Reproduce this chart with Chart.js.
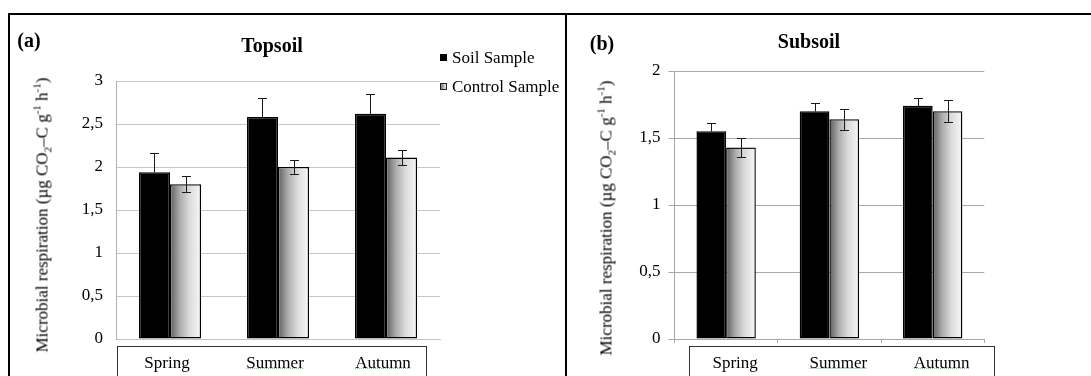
<!DOCTYPE html>
<html>
<head>
<meta charset="utf-8">
<script src="https://cdn.jsdelivr.net/npm/chart.js@4.4.1/dist/chart.umd.min.js"></script>
<style>
  body { margin: 0; background: #fff; }
  #page { position: relative; width: 1091px; height: 376px; overflow: hidden; font-family: 'Liberation Serif', 'Times New Roman', serif; color: #000; }
  .frame { position: absolute; left: 8px; top: 13px; width: 1100px; height: 400px; border-top: 2px solid #000; border-left: 2px solid #000; }
  .divider { position: absolute; left: 565px; top: 13px; width: 2px; height: 370px; background: #000; }
  canvas { position: absolute; }
  .ttl { position: absolute; white-space: nowrap; font-weight: bold; font-size: 20px; transform: translate(-50%, -50%); }
  .ytitle { position: absolute; white-space: nowrap; font-size: 17px; transform: translate(-50%, -50%) rotate(-90deg); }
  .ytitle sub, .ytitle sup { font-size: 11px; }
  .legend { position: absolute; left: 440px; font-size: 17px; white-space: nowrap; transform: translate(0, -50%); }
  .legend i { display: inline-block; width: 7px; height: 7px; margin-right: 5px; vertical-align: 2px; box-sizing: border-box; }
</style>
</head>
<body>
<div id="page">
  <div class="frame"></div>
  <div class="divider"></div>

  <canvas id="topsoil" width="555" height="360" style="left:10px; top:16px;"></canvas>
  <canvas id="subsoil" width="523" height="360" style="left:568px; top:16px;"></canvas>

  <div class="ttl" style="left:29px; top:40px;">(a)</div>
  <div class="ttl" style="left:272px; top:45px;">Topsoil</div>
  <div class="ttl" style="left:602px; top:43px;">(b)</div>
  <div class="ttl" style="left:809px; top:41px;">Subsoil</div>

  <div class="ytitle" style="left:42px; top:215px;">Microbial respiration (µg CO<sub>2</sub>–C g<sup>-1</sup> h<sup>-1</sup>)</div>
  <div class="ytitle" style="left:606px; top:218px;">Microbial respiration (µg CO<sub>2</sub>–C g<sup>-1</sup> h<sup>-1</sup>)</div>

  <div class="legend" style="top:58px;"><i style="background:#000;"></i>Soil Sample</div>
  <div class="legend" style="top:87px;"><i style="border:1px solid #222; background:linear-gradient(to right,#777,#eee);"></i>Control Sample</div>
</div>

<script>
const seasons = ['Spring', 'Summer', 'Autumn'];

const topsoilSoil = [1.94, 2.58, 2.62];
const topsoilSoilErr = [0.22, 0.22, 0.23];
const topsoilControl = [1.80, 2.00, 2.11];
const topsoilControlErr = [0.09, 0.08, 0.09];

const subsoilSoil = [1.55, 1.70, 1.74];
const subsoilSoilErr = [0.06, 0.06, 0.06];
const subsoilControl = [1.43, 1.64, 1.70];
const subsoilControlErr = [0.07, 0.08, 0.08];

const topsoilTicks = ['0', '0,5', '1', '1,5', '2', '2,5', '3'];
const subsoilTicks = ['0', '0,5', '1', '1,5', '2'];

Chart.defaults.font.family = "'Liberation Serif', 'Times New Roman', serif";
Chart.defaults.color = '#000';

// grey gradient fill for the control bars
const shadeBars = {
  id: 'shadeBars',
  afterDatasetDraw(chart, args) {
    if (args.index !== 1) return;
    const ctx = chart.ctx;
    args.meta.data.forEach(bar => {
      const { x, y, base, width } = bar.getProps(['x', 'y', 'base', 'width'], true);
      const l = x - width / 2 + 1.5, r = x + width / 2 - 1.5;
      const g = ctx.createLinearGradient(l, 0, r, 0);
      g.addColorStop(0, '#6a6a6a');
      g.addColorStop(0.3, '#adadad');
      g.addColorStop(0.65, '#dcdcdc');
      g.addColorStop(1, '#f3f3f3');
      ctx.save();
      ctx.fillStyle = g;
      ctx.fillRect(l, y + 1.5, r - l, base - y - 3);
      ctx.restore();
    });
  }
};

// black bars hide the lower half of their whisker, so only the upper part is drawn there
const errorBars = {
  id: 'errorBars',
  afterDatasetsDraw(chart) {
    const ctx = chart.ctx, ys = chart.scales.y;
    ctx.save();
    ctx.strokeStyle = '#1a1a1a';
    ctx.lineWidth = 1;
    chart.data.datasets.forEach((ds, i) => {
      chart.getDatasetMeta(i).data.forEach((bar, j) => {
        const v = ds.data[j], e = ds.errors[j];
        const top = Math.round(ys.getPixelForValue(v + e)) + 0.5;
        const bot = Math.round(ys.getPixelForValue(i === 0 ? v : v - e)) + 0.5;
        const x = Math.round(bar.x) + 0.5;
        ctx.beginPath();
        ctx.moveTo(x, top); ctx.lineTo(x, bot);
        ctx.moveTo(x - 4.5, top); ctx.lineTo(x + 4.5, top);
        if (i !== 0) { ctx.moveTo(x - 4.5, bot); ctx.lineTo(x + 4.5, bot); }
        ctx.stroke();
      });
    });
    ctx.restore();
  }
};

// box round the category labels (+ the spell-check squiggle under two of them)
const labelBox = {
  id: 'labelBox',
  afterDraw(chart, args, opts) {
    const ctx = chart.ctx, a = chart.chartArea, xs = chart.scales.x;
    ctx.save();
    ctx.strokeStyle = '#333';
    ctx.lineWidth = 1;
    const l = Math.round(a.left + opts.left) + 0.5;
    const r = Math.round(a.right + opts.right) + 0.5;
    const t = Math.round(a.bottom + opts.top) + 0.5;
    ctx.strokeRect(l, t, r - l, chart.height + 5 - t);
    ctx.font = '17px ' + Chart.defaults.font.family;
    ctx.strokeStyle = '#7cc97c';
    ctx.setLineDash([1, 1]);
    [1, 2].forEach(i => {
      const w = ctx.measureText(seasons[i]).width;
      const cx = xs.getPixelForTick(i) + opts.shift;
      const y = Math.round(a.bottom + 29) + 0.5;
      ctx.beginPath();
      ctx.moveTo(cx - w / 2, y); ctx.lineTo(cx + w / 2, y);
      ctx.stroke();
    });
    ctx.restore();
  }
};

function makeChart(id, soil, soilErr, control, controlErr, ticks, max, look) {
  return new Chart(document.getElementById(id), {
    type: 'bar',
    data: {
      labels: seasons,
      datasets: [
        { label: 'Soil Sample', data: soil, errors: soilErr, backgroundColor: '#000', borderColor: '#000', borderWidth: 1.5, borderSkipped: false },
        { label: 'Control Sample', data: control, errors: controlErr, backgroundColor: '#c8c8c8', borderColor: '#000', borderWidth: 1.5, borderSkipped: false }
      ]
    },
    options: {
      responsive: false,
      animation: false,
      layout: { padding: look.padding },
      datasets: { bar: { categoryPercentage: 0.575, barPercentage: 1 } },
      plugins: {
        legend: { display: false },
        tooltip: { enabled: false },
        labelBox: look.box
      },
      scales: {
        x: {
          grid: { display: look.xTicks, drawOnChartArea: false, drawTicks: look.xTicks, tickLength: 4, color: look.grid },
          border: { color: look.grid },
          ticks: { font: { size: 17 }, padding: look.xPad, labelOffset: look.box.shift },
          afterFit: s => { s.height = 37; }
        },
        y: {
          min: 0, max: max,
          grid: { color: look.grid, drawTicks: look.yTicks, tickLength: 6 },
          border: { color: look.axis },
          ticks: { stepSize: 0.5, font: { size: 17 }, padding: look.yPad, callback: (v, i) => ticks[i] },
          afterFit: s => { s.width = look.yWidth; }
        }
      }
    },
    plugins: [shadeBars, errorBars, labelBox]
  });
}

makeChart('topsoil', topsoilSoil, topsoilSoilErr, topsoilControl, topsoilControlErr, topsoilTicks, 3, {
  padding: { left: 0, right: 125, top: 65, bottom: 0 },
  yWidth: 106, yPad: 13, yTicks: false, xTicks: false, xPad: 14,
  grid: '#c6c6c6', axis: '#b0b0b0',
  box: { left: 1, right: -14, top: 7, shift: -3 }
});

makeChart('subsoil', subsoilSoil, subsoilSoilErr, subsoilControl, subsoilControlErr, subsoilTicks, 2, {
  padding: { left: 0, right: 106.7, top: 55, bottom: 0 },
  yWidth: 106.5, yPad: 8, yTicks: true, xTicks: true, xPad: 10,
  grid: '#a8a8a8', axis: '#a8a8a8',
  box: { left: 14.5, right: 10, top: 6.5, shift: 9 }
});
</script>
</body>
</html>
